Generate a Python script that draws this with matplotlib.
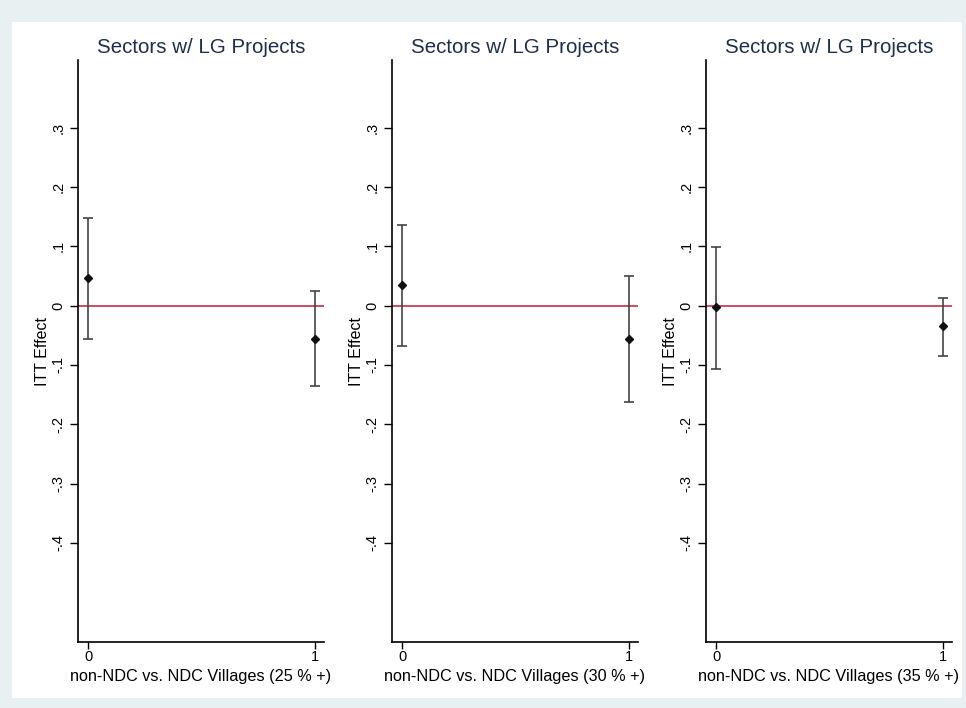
import matplotlib.pyplot as plt
from matplotlib.patches import Rectangle

plt.rcParams['font.family'] = ['Liberation Sans', 'DejaVu Sans']

# data
thresholds = ['25', '30', '35']
groups = [0, 1]
est = [[0.046, -0.056], [0.035, -0.056], [-0.003, -0.035]]
ci_lo = [[-0.056, -0.135], [-0.068, -0.163], [-0.106, -0.085]]
ci_hi = [[0.148, 0.025], [0.136, 0.050], [0.098, 0.012]]
yticks = [0.3, 0.2, 0.1, 0.0, -0.1, -0.2, -0.3, -0.4]
ytick_labels = ['.3', '.2', '.1', '0', '-.1', '-.2', '-.3', '-.4']

W, H = 966, 708
fig = plt.figure(figsize=(W / 100, H / 100), dpi=100)
fig.patch.set_facecolor('#e8f0f2')
fig.patches.append(Rectangle((12 / W, 1 - 698 / H), 950 / W, 676 / H,
                             transform=fig.transFigure, facecolor='white',
                             edgecolor='none', zorder=-5))

lefts = [78, 392, 706]
for i, thr in enumerate(thresholds):
    ax = fig.add_axes([lefts[i] / W, 1 - 642 / H, 246 / W, 582 / H])
    ax.set_zorder(2)
    ax.set_facecolor('none')
    lo = [e - l for e, l in zip(est[i], ci_lo[i])]
    hi = [h - e for e, h in zip(est[i], ci_hi[i])]
    ax.axhline(0, color='#d03a5c', lw=1.3, zorder=1)
    ax.errorbar(groups, est[i], yerr=[lo, hi], fmt='D', color='#111111',
                ecolor='#444444', elinewidth=1.2, capsize=3.5, capthick=1.2,
                markersize=4.5, zorder=3)
    ax.set_xlim(-0.045, 1.04)
    ax.set_ylim(-0.567, 0.414)
    ax.set_xticks(groups)
    ax.set_yticks(yticks)
    ax.set_yticklabels(ytick_labels, rotation=90, va='center')
    ax.tick_params(axis='both', width=1, labelsize=10.5)
    ax.tick_params(axis='y', length=6, pad=3)
    ax.tick_params(axis='x', length=5, pad=1)
    for s in ['top', 'right']:
        ax.spines[s].set_visible(False)
    for s in ['left', 'bottom']:
        ax.spines[s].set_linewidth(1.2)
    ax.set_ylabel('ITT Effect', fontsize=11.5, labelpad=1)
    ax.set_xlabel('non-NDC vs. NDC Villages (%s %% +)' % thr, fontsize=11.7,
                  labelpad=3)
    ax.set_title('Sectors w/ LG Projects', fontsize=14.8, color='#1e2f4d', pad=5)

fig.savefig('out.png', dpi=100, facecolor=fig.get_facecolor())
